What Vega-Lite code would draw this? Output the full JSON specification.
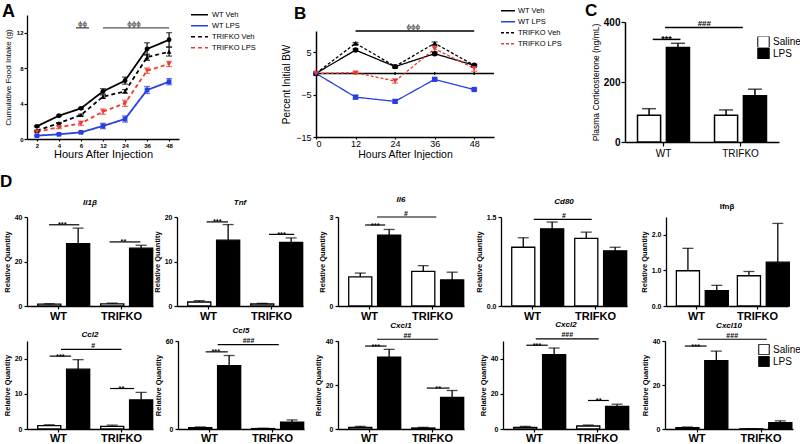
{
"$schema": "https://vega.github.io/schema/vega-lite/v6.json",
"padding": {"left": 0, "top": 2, "right": 0, "bottom": 0},
"config": {
 "font": "Liberation Sans",
 "view": {"stroke": null},
 "axis": {"grid": false, "domainColor": "black", "tickColor": "black", "labelColor": "black", "titleColor": "black", "domainWidth": 1.3, "tickWidth": 1.2, "titleFontWeight": "normal", "labelFont": "Liberation Sans", "titleFont": "Liberation Sans"},
 "legend": {"labelFont": "Liberation Sans", "labelColor": "black"},
 "title": {"font": "Liberation Sans", "color": "black"}
},
"datasets": {
 "food": [
  {"s":"WT Veh","h":"2","v":1.43,"lo":1.35,"hi":1.51},{"s":"WT Veh","h":"4","v":2.63,"lo":2.55,"hi":2.71},{"s":"WT Veh","h":"6","v":3.46,"lo":3.36,"hi":3.56},{"s":"WT Veh","h":"12","v":5.38,"lo":5.08,"hi":5.68},{"s":"WT Veh","h":"24","v":6.59,"lo":6.19,"hi":6.99},{"s":"WT Veh","h":"36","v":10.16,"lo":9.46,"hi":10.86},{"s":"WT Veh","h":"48","v":11.2,"lo":10.4,"hi":12.0},
  {"s":"WT LPS","h":"2","v":0.38,"lo":0.33,"hi":0.43},{"s":"WT LPS","h":"4","v":0.53,"lo":0.48,"hi":0.58},{"s":"WT LPS","h":"6","v":0.75,"lo":0.67,"hi":0.83},{"s":"WT LPS","h":"12","v":1.47,"lo":1.17,"hi":1.77},{"s":"WT LPS","h":"24","v":2.26,"lo":1.91,"hi":2.61},{"s":"WT LPS","h":"36","v":5.53,"lo":5.13,"hi":5.93},{"s":"WT LPS","h":"48","v":6.47,"lo":6.12,"hi":6.82},
  {"s":"TRIFKO Veh","h":"2","v":0.94,"lo":0.89,"hi":0.99},{"s":"TRIFKO Veh","h":"4","v":1.8,"lo":1.75,"hi":1.85},{"s":"TRIFKO Veh","h":"6","v":2.71,"lo":2.61,"hi":2.81},{"s":"TRIFKO Veh","h":"12","v":4.78,"lo":4.58,"hi":4.98},{"s":"TRIFKO Veh","h":"24","v":5.38,"lo":5.18,"hi":5.58},{"s":"TRIFKO Veh","h":"36","v":9.22,"lo":8.87,"hi":9.57},{"s":"TRIFKO Veh","h":"48","v":9.86,"lo":9.36,"hi":10.36},
  {"s":"TRIFKO LPS","h":"2","v":0.83,"lo":0.73,"hi":0.93},{"s":"TRIFKO LPS","h":"4","v":1.32,"lo":1.17,"hi":1.47},{"s":"TRIFKO LPS","h":"6","v":1.77,"lo":1.52,"hi":2.02},{"s":"TRIFKO LPS","h":"12","v":3.09,"lo":2.79,"hi":3.39},{"s":"TRIFKO LPS","h":"24","v":4.03,"lo":3.68,"hi":4.38},{"s":"TRIFKO LPS","h":"36","v":7.72,"lo":7.42,"hi":8.02},{"s":"TRIFKO LPS","h":"48","v":8.47,"lo":8.17,"hi":8.77}
 ],
 "bw": [
  {"s":"WT Veh","h":0,"v":0,"lo":0,"hi":0},{"s":"WT Veh","h":12,"v":5.5,"lo":5.2,"hi":5.8},{"s":"WT Veh","h":24,"v":1.6,"lo":1.3,"hi":1.9},{"s":"WT Veh","h":36,"v":4.65,"lo":4.3,"hi":5.0},{"s":"WT Veh","h":48,"v":1.9,"lo":1.6,"hi":2.2},
  {"s":"WT LPS","h":0,"v":0,"lo":0,"hi":0},{"s":"WT LPS","h":12,"v":-5.6,"lo":-6.0,"hi":-5.2},{"s":"WT LPS","h":24,"v":-6.6,"lo":-6.9,"hi":-6.3},{"s":"WT LPS","h":36,"v":-1.4,"lo":-1.7,"hi":-1.1},{"s":"WT LPS","h":48,"v":-3.8,"lo":-4.0,"hi":-3.6},
  {"s":"TRIFKO Veh","h":0,"v":0,"lo":0,"hi":0},{"s":"TRIFKO Veh","h":12,"v":7.1,"lo":6.9,"hi":7.3},{"s":"TRIFKO Veh","h":24,"v":1.65,"lo":1.45,"hi":1.85},{"s":"TRIFKO Veh","h":36,"v":7.1,"lo":6.8,"hi":7.4},{"s":"TRIFKO Veh","h":48,"v":1.9,"lo":1.7,"hi":2.1},
  {"s":"TRIFKO LPS","h":0,"v":0,"lo":0,"hi":0},{"s":"TRIFKO LPS","h":12,"v":0.15,"lo":-0.1,"hi":0.4},{"s":"TRIFKO LPS","h":24,"v":-1.8,"lo":-2.3,"hi":-1.3},{"s":"TRIFKO LPS","h":36,"v":5.8,"lo":5.1,"hi":6.4},{"s":"TRIFKO LPS","h":48,"v":1.2,"lo":0.5,"hi":1.8}
 ],
 "cort": [
  {"genotype":"WT","treatment":"Saline","v":89,"hi":111},{"genotype":"WT","treatment":"LPS","v":315,"hi":329},
  {"genotype":"TRIFKO","treatment":"Saline","v":89,"hi":107},{"genotype":"TRIFKO","treatment":"LPS","v":154,"hi":176}
 ],
 "csig": [
  {"x1":0.86,"x2":1.22,"xm":1.04,"y":342,"label":"***"},
  {"x1":1.02,"x2":2.03,"xm":1.53,"y":382,"label":"###"}
 ],
 "genes": [
  {"gene":"Il1b","genotype":"WT","treatment":"Saline","v":0.8,"hi":1.0},{"gene":"Il1b","genotype":"WT","treatment":"LPS","v":28.0,"hi":35.0},{"gene":"Il1b","genotype":"TRIFKO","treatment":"Saline","v":1.0,"hi":1.3},{"gene":"Il1b","genotype":"TRIFKO","treatment":"LPS","v":26.0,"hi":27.3},
  {"gene":"Tnf","genotype":"WT","treatment":"Saline","v":0.9,"hi":1.2},{"gene":"Tnf","genotype":"WT","treatment":"LPS","v":14.8,"hi":18.3},{"gene":"Tnf","genotype":"TRIFKO","treatment":"Saline","v":0.45,"hi":0.6},{"gene":"Tnf","genotype":"TRIFKO","treatment":"LPS","v":14.3,"hi":15.3},
  {"gene":"Il6","genotype":"WT","treatment":"Saline","v":0.985,"hi":1.11},{"gene":"Il6","genotype":"WT","treatment":"LPS","v":2.39,"hi":2.58},{"gene":"Il6","genotype":"TRIFKO","treatment":"Saline","v":1.17,"hi":1.36},{"gene":"Il6","genotype":"TRIFKO","treatment":"LPS","v":0.88,"hi":1.14},
  {"gene":"Cd80","genotype":"WT","treatment":"Saline","v":0.99,"hi":1.15},{"gene":"Cd80","genotype":"WT","treatment":"LPS","v":1.30,"hi":1.415},{"gene":"Cd80","genotype":"TRIFKO","treatment":"Saline","v":1.14,"hi":1.245},{"gene":"Cd80","genotype":"TRIFKO","treatment":"LPS","v":0.93,"hi":0.99},
  {"gene":"Ifnb","genotype":"WT","treatment":"Saline","v":0.99,"hi":1.62},{"gene":"Ifnb","genotype":"WT","treatment":"LPS","v":0.43,"hi":0.58},{"gene":"Ifnb","genotype":"TRIFKO","treatment":"Saline","v":0.85,"hi":0.97},{"gene":"Ifnb","genotype":"TRIFKO","treatment":"LPS","v":1.23,"hi":2.32},
  {"gene":"Ccl2","genotype":"WT","treatment":"Saline","v":0.94,"hi":1.2},{"gene":"Ccl2","genotype":"WT","treatment":"LPS","v":17.0,"hi":19.7},{"gene":"Ccl2","genotype":"TRIFKO","treatment":"Saline","v":0.75,"hi":1.1},{"gene":"Ccl2","genotype":"TRIFKO","treatment":"LPS","v":8.3,"hi":10.4},
  {"gene":"Ccl5","genotype":"WT","treatment":"Saline","v":0.9,"hi":1.4},{"gene":"Ccl5","genotype":"WT","treatment":"LPS","v":43.2,"hi":50.1},{"gene":"Ccl5","genotype":"TRIFKO","treatment":"Saline","v":0.3,"hi":0.5},{"gene":"Ccl5","genotype":"TRIFKO","treatment":"LPS","v":4.6,"hi":6.2},
  {"gene":"Cxcl1","genotype":"WT","treatment":"Saline","v":0.76,"hi":1.2},{"gene":"Cxcl1","genotype":"WT","treatment":"LPS","v":32.7,"hi":36.2},{"gene":"Cxcl1","genotype":"TRIFKO","treatment":"Saline","v":0.45,"hi":0.75},{"gene":"Cxcl1","genotype":"TRIFKO","treatment":"LPS","v":14.4,"hi":17.5},
  {"gene":"Cxcl2","genotype":"WT","treatment":"Saline","v":0.94,"hi":1.5},{"gene":"Cxcl2","genotype":"WT","treatment":"LPS","v":42.3,"hi":46.0},{"gene":"Cxcl2","genotype":"TRIFKO","treatment":"Saline","v":1.7,"hi":2.25},{"gene":"Cxcl2","genotype":"TRIFKO","treatment":"LPS","v":12.8,"hi":14.1},
  {"gene":"Cxcl10","genotype":"WT","treatment":"Saline","v":0.6,"hi":0.9},{"gene":"Cxcl10","genotype":"WT","treatment":"LPS","v":31.1,"hi":35.4},{"gene":"Cxcl10","genotype":"TRIFKO","treatment":"Saline","v":0.1,"hi":0.15},{"gene":"Cxcl10","genotype":"TRIFKO","treatment":"LPS","v":2.9,"hi":3.7}
 ],
 "gsig": [
  {"gene":"Il1b","x1":0.85,"x2":1.33,"xm":1.06,"y":36.5,"label":"***"},{"gene":"Il1b","x1":1.81,"x2":2.30,"xm":2.03,"y":28.8,"label":"**"},
  {"gene":"Tnf","x1":0.97,"x2":1.31,"xm":1.14,"y":18.9,"label":"***"},{"gene":"Tnf","x1":1.96,"x2":2.36,"xm":2.16,"y":16.1,"label":"***"},
  {"gene":"Il6","x1":0.93,"x2":1.25,"xm":1.09,"y":2.73,"label":"***"},{"gene":"Il6","x1":1.12,"x2":2.06,"xm":1.58,"y":3.0,"label":"#"},
  {"gene":"Cd80","x1":1.02,"x2":1.94,"xm":1.5,"y":1.46,"label":"#"},
  {"gene":"Ccl2","x1":0.86,"x2":1.20,"xm":1.03,"y":20.7,"label":"***"},{"gene":"Ccl2","x1":1.04,"x2":2.0,"xm":1.55,"y":22.6,"label":"#"},{"gene":"Ccl2","x1":1.82,"x2":2.2,"xm":2.0,"y":11.5,"label":"**"},
  {"gene":"Ccl5","x1":0.94,"x2":1.29,"xm":1.1,"y":52.6,"label":"***"},{"gene":"Ccl5","x1":1.13,"x2":2.1,"xm":1.62,"y":57.5,"label":"###"},
  {"gene":"Cxcl1","x1":0.93,"x2":1.27,"xm":1.1,"y":37.7,"label":"***"},{"gene":"Cxcl1","x1":1.12,"x2":2.09,"xm":1.6,"y":40.8,"label":"##"},{"gene":"Cxcl1","x1":1.91,"x2":2.27,"xm":2.09,"y":18.6,"label":"**"},
  {"gene":"Cxcl2","x1":0.87,"x2":1.21,"xm":1.04,"y":47.6,"label":"***"},{"gene":"Cxcl2","x1":1.02,"x2":2.02,"xm":1.52,"y":51.2,"label":"###"},{"gene":"Cxcl2","x1":1.85,"x2":2.18,"xm":2.02,"y":16.2,"label":"**"},
  {"gene":"Cxcl10","x1":0.81,"x2":1.15,"xm":0.98,"y":37.7,"label":"***"},{"gene":"Cxcl10","x1":1.01,"x2":2.09,"xm":1.55,"y":40.8,"label":"###"}
 ]
},
"spacing": 12,
"resolve": {"scale": {"color": "independent", "strokeDash": "independent", "fill": "independent"}, "legend": {"color": "independent", "strokeDash": "independent", "fill": "independent"}},
"vconcat": [
 {"hconcat": [
  {"width": 289, "height": 124,
   "title": {"text": "A", "anchor": "start", "frame": "group", "dx": -25, "dy": 10.5, "offset": 0, "fontSize": 18, "fontWeight": "bold"},
   "layer": [
    {"data": {"name": "food"},
     "encoding": {
      "x": {"field": "h", "type": "ordinal", "scale": {"type": "point", "domain": ["2","4","6","12","24","36","48"], "range": [0, 152], "padding": 0.45}, "axis": {"title": "Hours After Injection", "labelAngle": 0, "labelFontSize": 6, "labelFontWeight": "bold", "titleFontSize": 11, "tickSize": 2, "labelPadding": 1, "titlePadding": 0}}
     },
     "layer": [
      {"mark": {"type": "line", "strokeWidth": 1.8},
       "encoding": {"y": {"field": "v", "type": "quantitative", "scale": {"domain": [0, 14], "nice": false}, "axis": {"title": "Cumulative Food Intake (g)", "values": [0,2,4,6,8,10,12,14], "labelFontSize": 6, "labelFontWeight": "bold", "titleFontSize": 8, "tickSize": 3, "labelPadding": 1, "titlePadding": 4}},
        "color": {"field": "s", "type": "nominal", "scale": {"domain": ["WT Veh","WT LPS","TRIFKO Veh","TRIFKO LPS"], "range": ["black","#2a3fe0","black","#ee3b30"]},
         "legend": {"orient": "none", "legendX": 163, "legendY": -4.5, "title": null, "padding": 0, "labelFontSize": 7.5, "labelOffset": 3, "clipHeight": 8.5, "rowPadding": 2, "symbolType": "stroke", "symbolSize": 289, "symbolStrokeWidth": 1.6}},
        "strokeDash": {"field": "s", "type": "nominal", "scale": {"domain": ["WT Veh","WT LPS","TRIFKO Veh","TRIFKO LPS"], "range": [[1,0],[1,0],[4,3],[4,3]]},
         "legend": {"orient": "none", "legendX": 163, "legendY": -4.5, "title": null, "padding": 0, "labelFontSize": 7.5, "labelOffset": 3, "clipHeight": 8.5, "rowPadding": 2, "symbolType": "stroke", "symbolSize": 289, "symbolStrokeWidth": 1.6}}}},
      {"mark": {"type": "rule", "strokeWidth": 1.2}, "encoding": {"y": {"field": "lo", "type": "quantitative"}, "y2": {"field": "hi"}, "color": {"field": "s", "type": "nominal", "legend": null}}},
      {"mark": {"type": "tick", "thickness": 1.2, "size": 6}, "encoding": {"y": {"field": "hi", "type": "quantitative"}, "color": {"field": "s", "type": "nominal", "legend": null}}},
      {"mark": {"type": "tick", "thickness": 1.2, "size": 6}, "encoding": {"y": {"field": "lo", "type": "quantitative"}, "color": {"field": "s", "type": "nominal", "legend": null}}},
      {"transform": [{"filter": "datum.s === 'WT Veh'"}], "mark": {"type": "point", "shape": "circle", "filled": true, "size": 24, "opacity": 1}, "encoding": {"y": {"field": "v", "type": "quantitative"}, "color": {"field": "s", "type": "nominal", "legend": null}}},
      {"transform": [{"filter": "datum.s === 'WT LPS'"}], "mark": {"type": "point", "shape": "square", "filled": true, "size": 22, "opacity": 1}, "encoding": {"y": {"field": "v", "type": "quantitative"}, "color": {"field": "s", "type": "nominal", "legend": null}}},
      {"transform": [{"filter": "datum.s === 'TRIFKO Veh'"}], "mark": {"type": "point", "shape": "triangle-up", "filled": true, "size": 24, "opacity": 1}, "encoding": {"y": {"field": "v", "type": "quantitative"}, "color": {"field": "s", "type": "nominal", "legend": null}}},
      {"transform": [{"filter": "datum.s === 'TRIFKO LPS'"}], "mark": {"type": "point", "shape": "triangle-down", "filled": true, "size": 24, "opacity": 1}, "encoding": {"y": {"field": "v", "type": "quantitative"}, "color": {"field": "s", "type": "nominal", "legend": null}}}
     ]},
    {"data": {"values": [{"from": "12", "to": "48", "y": 12.55}]},
     "mark": {"type": "rule", "strokeWidth": 1.4, "color": "#555"},
     "encoding": {"x": {"field": "from", "type": "ordinal"}, "x2": {"field": "to"}, "y": {"field": "y", "type": "quantitative"}}},
    {"data": {"values": [{"from": "6", "to": "6", "y": 12.55}]},
     "mark": {"type": "rule", "strokeWidth": 1.4, "color": "#555", "xOffset": -5, "x2Offset": 8},
     "encoding": {"x": {"field": "from", "type": "ordinal"}, "x2": {"field": "to"}, "y": {"field": "y", "type": "quantitative"}}},
    {"data": {"values": [{"h": "24", "y": 12.55, "label": "ϕϕϕ"}]},
     "mark": {"type": "text", "baseline": "bottom", "dx": 9, "dy": 0, "fontSize": 8, "color": "#333"},
     "encoding": {"x": {"field": "h", "type": "ordinal"}, "y": {"field": "y", "type": "quantitative"}, "text": {"field": "label"}}},
    {"data": {"values": [{"h": "6", "y": 12.55, "label": "ϕϕ"}]},
     "mark": {"type": "text", "baseline": "bottom", "dx": 1.5, "dy": 0, "fontSize": 8, "color": "#333"},
     "encoding": {"x": {"field": "h", "type": "ordinal"}, "y": {"field": "y", "type": "quantitative"}, "text": {"field": "label"}}}
   ]},
  {"width": 309, "height": 122,
   "title": {"text": "B", "anchor": "start", "frame": "group", "dx": -22, "dy": 16, "offset": 0, "fontSize": 17, "fontWeight": "bold"},
   "layer": [
    {"data": {"values": [{"a": 0, "b": 54, "y": 0}]},
     "mark": {"type": "rule", "strokeWidth": 1.5, "color": "black"},
     "encoding": {"x": {"field": "a", "type": "quantitative", "scale": {"domain": [0, 54], "range": [0, 178], "nice": false}, "axis": {"values": [0,12,24,36,48], "title": "Hours After Injection", "labelFontSize": 9, "titleFontSize": 10.5, "tickSize": 2, "labelPadding": 0, "titlePadding": 1, "domainWidth": 1.5}},
      "x2": {"field": "b"}, "y": {"field": "y", "type": "quantitative", "scale": {"domain": [-15, 10], "range": [122, 16], "nice": false}, "axis": {"values": [-15,-10,-5,0,5,10], "title": "Percent Initial BW", "labelFontSize": 9, "titleFontSize": 10, "tickSize": 3, "labelPadding": 2, "titlePadding": 4, "domainWidth": 1.5}}}},
    {"data": {"values": [{"h": 12, "a": -0.35, "b": 0.35}, {"h": 24, "a": -0.35, "b": 0.35}, {"h": 36, "a": -0.35, "b": 0.35}, {"h": 48, "a": -0.35, "b": 0.35}]},
     "mark": {"type": "rule", "strokeWidth": 1.3, "color": "black"},
     "encoding": {"x": {"field": "h", "type": "quantitative"}, "y": {"field": "a", "type": "quantitative"}, "y2": {"field": "b"}}},
    {"data": {"name": "bw"},
     "encoding": {"x": {"field": "h", "type": "quantitative"}},
     "layer": [
      {"mark": {"type": "line", "strokeWidth": 1.3},
       "encoding": {"y": {"field": "v", "type": "quantitative"},
        "color": {"field": "s", "type": "nominal", "scale": {"domain": ["WT Veh","WT LPS","TRIFKO Veh","TRIFKO LPS"], "range": ["black","#2a3fe0","black","#ee3b30"]},
         "legend": {"orient": "none", "legendX": 184, "legendY": -8.5, "title": null, "padding": 0, "labelFontSize": 7.5, "labelOffset": 2, "clipHeight": 8.5, "rowPadding": 2, "symbolType": "stroke", "symbolSize": 196, "symbolStrokeWidth": 1.4}},
        "strokeDash": {"field": "s", "type": "nominal", "scale": {"domain": ["WT Veh","WT LPS","TRIFKO Veh","TRIFKO LPS"], "range": [[1,0],[1,0],[3,2],[3,2]]},
         "legend": {"orient": "none", "legendX": 184, "legendY": -8.5, "title": null, "padding": 0, "labelFontSize": 7.5, "labelOffset": 2, "clipHeight": 8.5, "rowPadding": 2, "symbolType": "stroke", "symbolSize": 196, "symbolStrokeWidth": 1.4}}}},
      {"mark": {"type": "rule", "strokeWidth": 1.2}, "encoding": {"y": {"field": "lo", "type": "quantitative"}, "y2": {"field": "hi"}, "color": {"field": "s", "type": "nominal", "legend": null}}},
      {"mark": {"type": "tick", "thickness": 1.2, "size": 6, "orient": "horizontal"}, "encoding": {"y": {"field": "hi", "type": "quantitative"}, "color": {"field": "s", "type": "nominal", "legend": null}}},
      {"mark": {"type": "tick", "thickness": 1.2, "size": 6, "orient": "horizontal"}, "encoding": {"y": {"field": "lo", "type": "quantitative"}, "color": {"field": "s", "type": "nominal", "legend": null}}},
      {"transform": [{"filter": "datum.s === 'WT Veh'"}], "mark": {"type": "point", "shape": "circle", "filled": true, "size": 30, "opacity": 1}, "encoding": {"y": {"field": "v", "type": "quantitative"}, "color": {"field": "s", "type": "nominal", "legend": null}}},
      {"transform": [{"filter": "datum.s === 'WT LPS'"}], "mark": {"type": "point", "shape": "square", "filled": true, "size": 28, "opacity": 1}, "encoding": {"y": {"field": "v", "type": "quantitative"}, "color": {"field": "s", "type": "nominal", "legend": null}}},
      {"transform": [{"filter": "datum.s === 'TRIFKO Veh'"}], "mark": {"type": "point", "shape": "triangle-up", "filled": true, "size": 30, "opacity": 1}, "encoding": {"y": {"field": "v", "type": "quantitative"}, "color": {"field": "s", "type": "nominal", "legend": null}}},
      {"transform": [{"filter": "datum.s === 'TRIFKO LPS'"}], "mark": {"type": "point", "shape": "triangle-down", "filled": true, "size": 30, "opacity": 1}, "encoding": {"y": {"field": "v", "type": "quantitative"}, "color": {"field": "s", "type": "nominal", "legend": null}}}
     ]},
    {"data": {"values": [{"a": 12, "b": 48, "y": 10}]},
     "mark": {"type": "rule", "strokeWidth": 1.3, "color": "black"},
     "encoding": {"x": {"field": "a", "type": "quantitative"}, "x2": {"field": "b"}, "y": {"field": "y", "type": "quantitative"}}},
    {"data": {"values": [{"h": 29.5, "y": 10, "label": "ϕϕϕ"}]},
     "mark": {"type": "text", "baseline": "bottom", "dy": 0, "fontSize": 8, "color": "#333"},
     "encoding": {"x": {"field": "h", "type": "quantitative"}, "y": {"field": "y", "type": "quantitative"}, "text": {"field": "label"}}}
   ]},
  {"width": 154, "height": 127,
   "title": {"text": "C", "anchor": "start", "frame": "group", "dx": -40, "dy": 5, "offset": 0, "fontSize": 17, "fontWeight": "bold"},
   "layer": [
    {"data": {"name": "cort"},
     "encoding": {
      "x": {"field": "genotype", "type": "nominal", "sort": ["WT","TRIFKO"], "scale": {"range": [0, 154], "paddingInner": 0.325, "paddingOuter": 0.1625}, "axis": {"title": null, "labelAngle": 0, "labelFontSize": 10, "tickSize": 4, "labelPadding": 2, "domainWidth": 1.5}},
      "xOffset": {"field": "treatment", "type": "nominal", "sort": ["Saline","LPS"], "scale": {"paddingInner": 0.2, "paddingOuter": 0}}
     },
     "layer": [
      {"mark": {"type": "bar", "stroke": "black", "strokeWidth": 1.5},
       "encoding": {"y": {"field": "v", "type": "quantitative", "scale": {"domain": [0, 400], "range": [127, 7], "nice": false}, "axis": {"values": [0,100,200,300,400], "title": "Plasma Corticosterone (ng/mL)", "titleFontSize": 8.5, "labelFontSize": 10, "labelFontWeight": "bold", "tickSize": 4, "labelPadding": 1, "titlePadding": 3, "domainWidth": 1.5}},
        "fill": {"field": "treatment", "type": "nominal", "scale": {"domain": ["Saline","LPS"], "range": ["white","black"]},
         "legend": {"orient": "none", "legendX": 132, "legendY": 21.5, "title": null, "padding": 0, "symbolType": "square", "symbolSize": 130, "symbolStrokeColor": "black", "symbolStrokeWidth": 1, "labelFontSize": 10, "labelOffset": 3, "clipHeight": 11, "rowPadding": 0.5}}}},
      {"mark": {"type": "rule", "color": "black", "strokeWidth": 1.5}, "encoding": {"y": {"field": "v", "type": "quantitative"}, "y2": {"field": "hi"}}},
      {"mark": {"type": "tick", "color": "black", "thickness": 1.5, "size": 14}, "encoding": {"y": {"field": "hi", "type": "quantitative"}}}
     ]},
    {"data": {"name": "csig"},
     "encoding": {"y": {"field": "y", "type": "quantitative"}},
     "layer": [
      {"mark": {"type": "rule", "color": "black", "strokeWidth": 1.5}, "encoding": {"x": {"field": "x1", "type": "quantitative", "scale": {"domain": [0.5, 2.5], "range": [0, 154], "nice": false, "zero": false}, "axis": null}, "x2": {"field": "x2"}}},
      {"transform": [{"filter": "indexof(datum.label, '*') >= 0"}], "mark": {"type": "text", "baseline": "alphabetic", "dy": 3, "fontSize": 9, "fontWeight": "bold"}, "encoding": {"x": {"field": "xm", "type": "quantitative"}, "text": {"field": "label"}}},
      {"transform": [{"filter": "indexof(datum.label, '#') >= 0"}], "mark": {"type": "text", "baseline": "alphabetic", "dy": -1.5, "fontSize": 8, "fontWeight": "bold"}, "encoding": {"x": {"field": "xm", "type": "quantitative"}, "text": {"field": "label"}}}
     ]}
   ],
   "resolve": {"scale": {"x": "independent"}}}
 ], "spacing": 0, "bounds": "flush",
 "resolve": {"scale": {"color": "independent", "strokeDash": "independent", "fill": "independent"}, "legend": {"color": "independent", "strokeDash": "independent", "fill": "independent"}}},
 {"title": {"text": "D", "anchor": "start", "frame": "group", "dx": -27, "dy": -5, "offset": 0, "fontSize": 17, "fontWeight": "bold"},
  "spacing": 0,
  "resolve": {"scale": {"fill": "independent"}, "legend": {"fill": "independent"}},
  "vconcat": [
   {"hconcat": [
    {"width": 150, "height": 89, "title": {"text": "Il1β", "fontSize": 8, "fontWeight": "bold", "fontStyle": "italic", "anchor": "middle", "frame": "group", "dx": -12, "offset": 6},
     "layer": [
      {"data": {"name": "genes"}, "transform": [{"filter": "datum.gene === 'Il1b'"}],
       "encoding": {"x": {"field": "genotype", "type": "nominal", "sort": ["WT","TRIFKO"], "scale": {"range": [0, 126], "paddingInner": 0.34, "paddingOuter": 0.17}, "axis": {"title": null, "labelAngle": 0, "labelFontSize": 11, "labelFontWeight": "bold", "tickSize": 3, "labelPadding": 1, "domainWidth": 1.5}},
        "xOffset": {"field": "treatment", "type": "nominal", "sort": ["Saline","LPS"], "scale": {"paddingInner": 0.29, "paddingOuter": 0}}},
       "layer": [
        {"mark": {"type": "bar", "stroke": "black", "strokeWidth": 1.3}, "encoding": {"y": {"field": "v", "type": "quantitative", "scale": {"domain": [0, 40], "nice": false}, "axis": {"title": "Relative Quantity", "values": [0,10,20,30,40], "titleFontSize": 7.5, "titleFontWeight": "bold", "labelFontSize": 7, "labelFontWeight": "bold", "tickSize": 3, "labelPadding": 2, "titlePadding": 3, "domainWidth": 1.3}}, "fill": {"field": "treatment", "type": "nominal", "scale": {"domain": ["Saline","LPS"], "range": ["white","black"]}, "legend": null}}},
        {"mark": {"type": "rule", "color": "black", "strokeWidth": 1.3}, "encoding": {"y": {"field": "v", "type": "quantitative"}, "y2": {"field": "hi"}}},
        {"mark": {"type": "tick", "color": "black", "thickness": 1.3, "size": 11}, "encoding": {"y": {"field": "hi", "type": "quantitative"}}}
       ]},
      {"data": {"name": "gsig"}, "transform": [{"filter": "datum.gene === 'Il1b'"}], "encoding": {"y": {"field": "y", "type": "quantitative"}},
       "layer": [
        {"mark": {"type": "rule", "color": "black", "strokeWidth": 1.2}, "encoding": {"x": {"field": "x1", "type": "quantitative", "scale": {"domain": [0.5, 2.5], "range": [0, 126], "nice": false, "zero": false}, "axis": null}, "x2": {"field": "x2"}}},
        {"transform": [{"filter": "indexof(datum.label, '*') >= 0"}], "mark": {"type": "text", "baseline": "alphabetic", "dy": 2.5, "fontSize": 7.5, "fontWeight": "bold"}, "encoding": {"x": {"field": "xm", "type": "quantitative"}, "text": {"field": "label"}}},
        {"transform": [{"filter": "indexof(datum.label, '#') >= 0"}], "mark": {"type": "text", "baseline": "alphabetic", "dy": -1.5, "fontSize": 7, "fontWeight": "bold"}, "encoding": {"x": {"field": "xm", "type": "quantitative"}, "text": {"field": "label"}}}
       ]}
     ], "resolve": {"scale": {"x": "independent"}}},
    {"width": 161, "height": 89, "title": {"text": "Tnf", "fontSize": 8, "fontWeight": "bold", "fontStyle": "italic", "anchor": "middle", "frame": "group", "dx": -17.5, "offset": 6},
     "layer": [
      {"data": {"name": "genes"}, "transform": [{"filter": "datum.gene === 'Tnf'"}],
       "encoding": {"x": {"field": "genotype", "type": "nominal", "sort": ["WT","TRIFKO"], "scale": {"range": [0, 126], "paddingInner": 0.34, "paddingOuter": 0.17}, "axis": {"title": null, "labelAngle": 0, "labelFontSize": 11, "labelFontWeight": "bold", "tickSize": 3, "labelPadding": 1, "domainWidth": 1.5}},
        "xOffset": {"field": "treatment", "type": "nominal", "sort": ["Saline","LPS"], "scale": {"paddingInner": 0.29, "paddingOuter": 0}}},
       "layer": [
        {"mark": {"type": "bar", "stroke": "black", "strokeWidth": 1.3}, "encoding": {"y": {"field": "v", "type": "quantitative", "scale": {"domain": [0, 20], "nice": false}, "axis": {"title": "Relative Quantity", "values": [0,5,10,15,20], "titleFontSize": 7.5, "titleFontWeight": "bold", "labelFontSize": 7, "labelFontWeight": "bold", "tickSize": 3, "labelPadding": 2, "titlePadding": 3, "domainWidth": 1.3}}, "fill": {"field": "treatment", "type": "nominal", "scale": {"domain": ["Saline","LPS"], "range": ["white","black"]}, "legend": null}}},
        {"mark": {"type": "rule", "color": "black", "strokeWidth": 1.3}, "encoding": {"y": {"field": "v", "type": "quantitative"}, "y2": {"field": "hi"}}},
        {"mark": {"type": "tick", "color": "black", "thickness": 1.3, "size": 11}, "encoding": {"y": {"field": "hi", "type": "quantitative"}}}
       ]},
      {"data": {"name": "gsig"}, "transform": [{"filter": "datum.gene === 'Tnf'"}], "encoding": {"y": {"field": "y", "type": "quantitative"}},
       "layer": [
        {"mark": {"type": "rule", "color": "black", "strokeWidth": 1.2}, "encoding": {"x": {"field": "x1", "type": "quantitative", "scale": {"domain": [0.5, 2.5], "range": [0, 126], "nice": false, "zero": false}, "axis": null}, "x2": {"field": "x2"}}},
        {"transform": [{"filter": "indexof(datum.label, '*') >= 0"}], "mark": {"type": "text", "baseline": "alphabetic", "dy": 2.5, "fontSize": 7.5, "fontWeight": "bold"}, "encoding": {"x": {"field": "xm", "type": "quantitative"}, "text": {"field": "label"}}},
        {"transform": [{"filter": "indexof(datum.label, '#') >= 0"}], "mark": {"type": "text", "baseline": "alphabetic", "dy": -1.5, "fontSize": 7, "fontWeight": "bold"}, "encoding": {"x": {"field": "xm", "type": "quantitative"}, "text": {"field": "label"}}}
       ]}
     ], "resolve": {"scale": {"x": "independent"}}},
    {"width": 163, "height": 89, "title": {"text": "Il6", "fontSize": 8, "fontWeight": "bold", "fontStyle": "italic", "anchor": "middle", "frame": "group", "dx": -18.5, "offset": 6},
     "layer": [
      {"data": {"name": "genes"}, "transform": [{"filter": "datum.gene === 'Il6'"}],
       "encoding": {"x": {"field": "genotype", "type": "nominal", "sort": ["WT","TRIFKO"], "scale": {"range": [0, 126], "paddingInner": 0.34, "paddingOuter": 0.17}, "axis": {"title": null, "labelAngle": 0, "labelFontSize": 11, "labelFontWeight": "bold", "tickSize": 3, "labelPadding": 1, "domainWidth": 1.5}},
        "xOffset": {"field": "treatment", "type": "nominal", "sort": ["Saline","LPS"], "scale": {"paddingInner": 0.29, "paddingOuter": 0}}},
       "layer": [
        {"mark": {"type": "bar", "stroke": "black", "strokeWidth": 1.3}, "encoding": {"y": {"field": "v", "type": "quantitative", "scale": {"domain": [0, 3], "nice": false}, "axis": {"title": "Relative Quantity", "values": [0,1,2,3], "titleFontSize": 7.5, "titleFontWeight": "bold", "labelFontSize": 7, "labelFontWeight": "bold", "tickSize": 3, "labelPadding": 2, "titlePadding": 3, "domainWidth": 1.3}}, "fill": {"field": "treatment", "type": "nominal", "scale": {"domain": ["Saline","LPS"], "range": ["white","black"]}, "legend": null}}},
        {"mark": {"type": "rule", "color": "black", "strokeWidth": 1.3}, "encoding": {"y": {"field": "v", "type": "quantitative"}, "y2": {"field": "hi"}}},
        {"mark": {"type": "tick", "color": "black", "thickness": 1.3, "size": 11}, "encoding": {"y": {"field": "hi", "type": "quantitative"}}}
       ]},
      {"data": {"name": "gsig"}, "transform": [{"filter": "datum.gene === 'Il6'"}], "encoding": {"y": {"field": "y", "type": "quantitative"}},
       "layer": [
        {"mark": {"type": "rule", "color": "black", "strokeWidth": 1.2}, "encoding": {"x": {"field": "x1", "type": "quantitative", "scale": {"domain": [0.5, 2.5], "range": [0, 126], "nice": false, "zero": false}, "axis": null}, "x2": {"field": "x2"}}},
        {"transform": [{"filter": "indexof(datum.label, '*') >= 0"}], "mark": {"type": "text", "baseline": "alphabetic", "dy": 2.5, "fontSize": 7.5, "fontWeight": "bold"}, "encoding": {"x": {"field": "xm", "type": "quantitative"}, "text": {"field": "label"}}},
        {"transform": [{"filter": "indexof(datum.label, '#') >= 0"}], "mark": {"type": "text", "baseline": "alphabetic", "dy": -1.5, "fontSize": 7, "fontWeight": "bold"}, "encoding": {"x": {"field": "xm", "type": "quantitative"}, "text": {"field": "label"}}}
       ]}
     ], "resolve": {"scale": {"x": "independent"}}},
    {"width": 165, "height": 89, "title": {"text": "Cd80", "fontSize": 8, "fontWeight": "bold", "fontStyle": "italic", "anchor": "middle", "frame": "group", "dx": -19.5, "offset": 6},
     "layer": [
      {"data": {"name": "genes"}, "transform": [{"filter": "datum.gene === 'Cd80'"}],
       "encoding": {"x": {"field": "genotype", "type": "nominal", "sort": ["WT","TRIFKO"], "scale": {"range": [0, 126], "paddingInner": 0.34, "paddingOuter": 0.17}, "axis": {"title": null, "labelAngle": 0, "labelFontSize": 11, "labelFontWeight": "bold", "tickSize": 3, "labelPadding": 1, "domainWidth": 1.5}},
        "xOffset": {"field": "treatment", "type": "nominal", "sort": ["Saline","LPS"], "scale": {"paddingInner": 0.29, "paddingOuter": 0}}},
       "layer": [
        {"mark": {"type": "bar", "stroke": "black", "strokeWidth": 1.3}, "encoding": {"y": {"field": "v", "type": "quantitative", "scale": {"domain": [0, 1.5], "nice": false}, "axis": {"title": "Relative Quantity", "values": [0,0.5,1,1.5], "format": ".1f", "titleFontSize": 7.5, "titleFontWeight": "bold", "labelFontSize": 7, "labelFontWeight": "bold", "tickSize": 3, "labelPadding": 2, "titlePadding": 3, "domainWidth": 1.3}}, "fill": {"field": "treatment", "type": "nominal", "scale": {"domain": ["Saline","LPS"], "range": ["white","black"]}, "legend": null}}},
        {"mark": {"type": "rule", "color": "black", "strokeWidth": 1.3}, "encoding": {"y": {"field": "v", "type": "quantitative"}, "y2": {"field": "hi"}}},
        {"mark": {"type": "tick", "color": "black", "thickness": 1.3, "size": 11}, "encoding": {"y": {"field": "hi", "type": "quantitative"}}}
       ]},
      {"data": {"name": "gsig"}, "transform": [{"filter": "datum.gene === 'Cd80'"}], "encoding": {"y": {"field": "y", "type": "quantitative"}},
       "layer": [
        {"mark": {"type": "rule", "color": "black", "strokeWidth": 1.2}, "encoding": {"x": {"field": "x1", "type": "quantitative", "scale": {"domain": [0.5, 2.5], "range": [0, 126], "nice": false, "zero": false}, "axis": null}, "x2": {"field": "x2"}}},
        {"transform": [{"filter": "indexof(datum.label, '#') >= 0"}], "mark": {"type": "text", "baseline": "alphabetic", "dy": -1.5, "fontSize": 7, "fontWeight": "bold"}, "encoding": {"x": {"field": "xm", "type": "quantitative"}, "text": {"field": "label"}}}
       ]}
     ], "resolve": {"scale": {"x": "independent"}}},
    {"width": 128, "height": 89, "title": {"text": "Ifnβ", "fontSize": 8, "fontWeight": "bold", "anchor": "middle", "frame": "group", "dx": -3, "offset": 6},
     "layer": [
      {"data": {"name": "genes"}, "transform": [{"filter": "datum.gene === 'Ifnb'"}],
       "encoding": {"x": {"field": "genotype", "type": "nominal", "sort": ["WT","TRIFKO"], "scale": {"range": [0, 122], "paddingInner": 0.34, "paddingOuter": 0.17}, "axis": {"title": null, "labelAngle": 0, "labelFontSize": 11, "labelFontWeight": "bold", "tickSize": 3, "labelPadding": 1, "domainWidth": 1.5}},
        "xOffset": {"field": "treatment", "type": "nominal", "sort": ["Saline","LPS"], "scale": {"paddingInner": 0.29, "paddingOuter": 0}}},
       "layer": [
        {"mark": {"type": "bar", "stroke": "black", "strokeWidth": 1.3}, "encoding": {"y": {"field": "v", "type": "quantitative", "scale": {"domain": [0, 2.5], "nice": false}, "axis": {"title": "Relative Quantity", "values": [0,0.5,1,1.5,2,2.5], "format": ".1f", "titleFontSize": 7.5, "titleFontWeight": "bold", "labelFontSize": 7, "labelFontWeight": "bold", "tickSize": 3, "labelPadding": 2, "titlePadding": 3, "domainWidth": 1.3}}, "fill": {"field": "treatment", "type": "nominal", "scale": {"domain": ["Saline","LPS"], "range": ["white","black"]}, "legend": null}}},
        {"mark": {"type": "rule", "color": "black", "strokeWidth": 1.3}, "encoding": {"y": {"field": "v", "type": "quantitative"}, "y2": {"field": "hi"}}},
        {"mark": {"type": "tick", "color": "black", "thickness": 1.3, "size": 11}, "encoding": {"y": {"field": "hi", "type": "quantitative"}}}
       ]}
     ]}
   ], "spacing": 0, "bounds": "flush", "resolve": {"scale": {"fill": "independent"}, "legend": {"fill": "independent"}}},
   {"hconcat": [
    {"width": 151, "height": 88, "title": {"text": "Ccl2", "fontSize": 8, "fontWeight": "bold", "fontStyle": "italic", "anchor": "middle", "frame": "group", "dx": -12.5, "offset": 2},
     "layer": [
      {"data": {"name": "genes"}, "transform": [{"filter": "datum.gene === 'Ccl2'"}],
       "encoding": {"x": {"field": "genotype", "type": "nominal", "sort": ["WT","TRIFKO"], "scale": {"range": [0, 126], "paddingInner": 0.34, "paddingOuter": 0.17}, "axis": {"title": null, "labelAngle": 0, "labelFontSize": 11, "labelFontWeight": "bold", "tickSize": 3, "labelPadding": 0, "domainWidth": 1.5}},
        "xOffset": {"field": "treatment", "type": "nominal", "sort": ["Saline","LPS"], "scale": {"paddingInner": 0.29, "paddingOuter": 0}}},
       "layer": [
        {"mark": {"type": "bar", "stroke": "black", "strokeWidth": 1.3}, "encoding": {"y": {"field": "v", "type": "quantitative", "scale": {"domain": [0, 25], "nice": false}, "axis": {"title": "Relative Quantity", "values": [0,5,10,15,20,25], "titleFontSize": 7.5, "titleFontWeight": "bold", "labelFontSize": 7, "labelFontWeight": "bold", "tickSize": 3, "labelPadding": 2, "titlePadding": 3, "domainWidth": 1.3}}, "fill": {"field": "treatment", "type": "nominal", "scale": {"domain": ["Saline","LPS"], "range": ["white","black"]}, "legend": null}}},
        {"mark": {"type": "rule", "color": "black", "strokeWidth": 1.3}, "encoding": {"y": {"field": "v", "type": "quantitative"}, "y2": {"field": "hi"}}},
        {"mark": {"type": "tick", "color": "black", "thickness": 1.3, "size": 11}, "encoding": {"y": {"field": "hi", "type": "quantitative"}}}
       ]},
      {"data": {"name": "gsig"}, "transform": [{"filter": "datum.gene === 'Ccl2'"}], "encoding": {"y": {"field": "y", "type": "quantitative"}},
       "layer": [
        {"mark": {"type": "rule", "color": "black", "strokeWidth": 1.2}, "encoding": {"x": {"field": "x1", "type": "quantitative", "scale": {"domain": [0.5, 2.5], "range": [0, 126], "nice": false, "zero": false}, "axis": null}, "x2": {"field": "x2"}}},
        {"transform": [{"filter": "indexof(datum.label, '*') >= 0"}], "mark": {"type": "text", "baseline": "alphabetic", "dy": 2.5, "fontSize": 7.5, "fontWeight": "bold"}, "encoding": {"x": {"field": "xm", "type": "quantitative"}, "text": {"field": "label"}}},
        {"transform": [{"filter": "indexof(datum.label, '#') >= 0"}], "mark": {"type": "text", "baseline": "alphabetic", "dy": -1.5, "fontSize": 7, "fontWeight": "bold"}, "encoding": {"x": {"field": "xm", "type": "quantitative"}, "text": {"field": "label"}}}
       ]}
     ], "resolve": {"scale": {"x": "independent"}}},
    {"width": 160, "height": 88, "title": {"text": "Ccl5", "fontSize": 8, "fontWeight": "bold", "fontStyle": "italic", "anchor": "middle", "frame": "group", "dx": -17, "offset": 2},
     "layer": [
      {"data": {"name": "genes"}, "transform": [{"filter": "datum.gene === 'Ccl5'"}],
       "encoding": {"x": {"field": "genotype", "type": "nominal", "sort": ["WT","TRIFKO"], "scale": {"range": [0, 126], "paddingInner": 0.34, "paddingOuter": 0.17}, "axis": {"title": null, "labelAngle": 0, "labelFontSize": 11, "labelFontWeight": "bold", "tickSize": 3, "labelPadding": 0, "domainWidth": 1.5}},
        "xOffset": {"field": "treatment", "type": "nominal", "sort": ["Saline","LPS"], "scale": {"paddingInner": 0.29, "paddingOuter": 0}}},
       "layer": [
        {"mark": {"type": "bar", "stroke": "black", "strokeWidth": 1.3}, "encoding": {"y": {"field": "v", "type": "quantitative", "scale": {"domain": [0, 60], "nice": false}, "axis": {"title": "Relative Quantity", "values": [0,20,40,60], "titleFontSize": 7.5, "titleFontWeight": "bold", "labelFontSize": 7, "labelFontWeight": "bold", "tickSize": 3, "labelPadding": 2, "titlePadding": 3, "domainWidth": 1.3}}, "fill": {"field": "treatment", "type": "nominal", "scale": {"domain": ["Saline","LPS"], "range": ["white","black"]}, "legend": null}}},
        {"mark": {"type": "rule", "color": "black", "strokeWidth": 1.3}, "encoding": {"y": {"field": "v", "type": "quantitative"}, "y2": {"field": "hi"}}},
        {"mark": {"type": "tick", "color": "black", "thickness": 1.3, "size": 11}, "encoding": {"y": {"field": "hi", "type": "quantitative"}}}
       ]},
      {"data": {"name": "gsig"}, "transform": [{"filter": "datum.gene === 'Ccl5'"}], "encoding": {"y": {"field": "y", "type": "quantitative"}},
       "layer": [
        {"mark": {"type": "rule", "color": "black", "strokeWidth": 1.2}, "encoding": {"x": {"field": "x1", "type": "quantitative", "scale": {"domain": [0.5, 2.5], "range": [0, 126], "nice": false, "zero": false}, "axis": null}, "x2": {"field": "x2"}}},
        {"transform": [{"filter": "indexof(datum.label, '*') >= 0"}], "mark": {"type": "text", "baseline": "alphabetic", "dy": 2.5, "fontSize": 7.5, "fontWeight": "bold"}, "encoding": {"x": {"field": "xm", "type": "quantitative"}, "text": {"field": "label"}}},
        {"transform": [{"filter": "indexof(datum.label, '#') >= 0"}], "mark": {"type": "text", "baseline": "alphabetic", "dy": -1.5, "fontSize": 7, "fontWeight": "bold"}, "encoding": {"x": {"field": "xm", "type": "quantitative"}, "text": {"field": "label"}}}
       ]}
     ], "resolve": {"scale": {"x": "independent"}}},
    {"width": 165, "height": 88, "title": {"text": "Cxcl1", "fontSize": 8, "fontWeight": "bold", "fontStyle": "italic", "anchor": "middle", "frame": "group", "dx": -19.5, "offset": 2},
     "layer": [
      {"data": {"name": "genes"}, "transform": [{"filter": "datum.gene === 'Cxcl1'"}],
       "encoding": {"x": {"field": "genotype", "type": "nominal", "sort": ["WT","TRIFKO"], "scale": {"range": [0, 126], "paddingInner": 0.34, "paddingOuter": 0.17}, "axis": {"title": null, "labelAngle": 0, "labelFontSize": 11, "labelFontWeight": "bold", "tickSize": 3, "labelPadding": 0, "domainWidth": 1.5}},
        "xOffset": {"field": "treatment", "type": "nominal", "sort": ["Saline","LPS"], "scale": {"paddingInner": 0.29, "paddingOuter": 0}}},
       "layer": [
        {"mark": {"type": "bar", "stroke": "black", "strokeWidth": 1.3}, "encoding": {"y": {"field": "v", "type": "quantitative", "scale": {"domain": [0, 40], "nice": false}, "axis": {"title": "Relative Quantity", "values": [0,10,20,30,40], "titleFontSize": 7.5, "titleFontWeight": "bold", "labelFontSize": 7, "labelFontWeight": "bold", "tickSize": 3, "labelPadding": 2, "titlePadding": 3, "domainWidth": 1.3}}, "fill": {"field": "treatment", "type": "nominal", "scale": {"domain": ["Saline","LPS"], "range": ["white","black"]}, "legend": null}}},
        {"mark": {"type": "rule", "color": "black", "strokeWidth": 1.3}, "encoding": {"y": {"field": "v", "type": "quantitative"}, "y2": {"field": "hi"}}},
        {"mark": {"type": "tick", "color": "black", "thickness": 1.3, "size": 11}, "encoding": {"y": {"field": "hi", "type": "quantitative"}}}
       ]},
      {"data": {"name": "gsig"}, "transform": [{"filter": "datum.gene === 'Cxcl1'"}], "encoding": {"y": {"field": "y", "type": "quantitative"}},
       "layer": [
        {"mark": {"type": "rule", "color": "black", "strokeWidth": 1.2}, "encoding": {"x": {"field": "x1", "type": "quantitative", "scale": {"domain": [0.5, 2.5], "range": [0, 126], "nice": false, "zero": false}, "axis": null}, "x2": {"field": "x2"}}},
        {"transform": [{"filter": "indexof(datum.label, '*') >= 0"}], "mark": {"type": "text", "baseline": "alphabetic", "dy": 2.5, "fontSize": 7.5, "fontWeight": "bold"}, "encoding": {"x": {"field": "xm", "type": "quantitative"}, "text": {"field": "label"}}},
        {"transform": [{"filter": "indexof(datum.label, '#') >= 0"}], "mark": {"type": "text", "baseline": "alphabetic", "dy": -1.5, "fontSize": 7, "fontWeight": "bold"}, "encoding": {"x": {"field": "xm", "type": "quantitative"}, "text": {"field": "label"}}}
       ]}
     ], "resolve": {"scale": {"x": "independent"}}},
    {"width": 162, "height": 88, "title": {"text": "Cxcl2", "fontSize": 8, "fontWeight": "bold", "fontStyle": "italic", "anchor": "middle", "frame": "group", "dx": -18, "offset": 2},
     "layer": [
      {"data": {"name": "genes"}, "transform": [{"filter": "datum.gene === 'Cxcl2'"}],
       "encoding": {"x": {"field": "genotype", "type": "nominal", "sort": ["WT","TRIFKO"], "scale": {"range": [0, 126], "paddingInner": 0.34, "paddingOuter": 0.17}, "axis": {"title": null, "labelAngle": 0, "labelFontSize": 11, "labelFontWeight": "bold", "tickSize": 3, "labelPadding": 0, "domainWidth": 1.5}},
        "xOffset": {"field": "treatment", "type": "nominal", "sort": ["Saline","LPS"], "scale": {"paddingInner": 0.29, "paddingOuter": 0}}},
       "layer": [
        {"mark": {"type": "bar", "stroke": "black", "strokeWidth": 1.3}, "encoding": {"y": {"field": "v", "type": "quantitative", "scale": {"domain": [0, 50], "nice": false}, "axis": {"title": "Relative Quantity", "values": [0,10,20,30,40,50], "titleFontSize": 7.5, "titleFontWeight": "bold", "labelFontSize": 7, "labelFontWeight": "bold", "tickSize": 3, "labelPadding": 2, "titlePadding": 3, "domainWidth": 1.3}}, "fill": {"field": "treatment", "type": "nominal", "scale": {"domain": ["Saline","LPS"], "range": ["white","black"]}, "legend": null}}},
        {"mark": {"type": "rule", "color": "black", "strokeWidth": 1.3}, "encoding": {"y": {"field": "v", "type": "quantitative"}, "y2": {"field": "hi"}}},
        {"mark": {"type": "tick", "color": "black", "thickness": 1.3, "size": 11}, "encoding": {"y": {"field": "hi", "type": "quantitative"}}}
       ]},
      {"data": {"name": "gsig"}, "transform": [{"filter": "datum.gene === 'Cxcl2'"}], "encoding": {"y": {"field": "y", "type": "quantitative"}},
       "layer": [
        {"mark": {"type": "rule", "color": "black", "strokeWidth": 1.2}, "encoding": {"x": {"field": "x1", "type": "quantitative", "scale": {"domain": [0.5, 2.5], "range": [0, 126], "nice": false, "zero": false}, "axis": null}, "x2": {"field": "x2"}}},
        {"transform": [{"filter": "indexof(datum.label, '*') >= 0"}], "mark": {"type": "text", "baseline": "alphabetic", "dy": 2.5, "fontSize": 7.5, "fontWeight": "bold"}, "encoding": {"x": {"field": "xm", "type": "quantitative"}, "text": {"field": "label"}}},
        {"transform": [{"filter": "indexof(datum.label, '#') >= 0"}], "mark": {"type": "text", "baseline": "alphabetic", "dy": -1.5, "fontSize": 7, "fontWeight": "bold"}, "encoding": {"x": {"field": "xm", "type": "quantitative"}, "text": {"field": "label"}}}
       ]}
     ], "resolve": {"scale": {"x": "independent"}}},
    {"width": 130, "height": 88, "title": {"text": "Cxcl10", "fontSize": 8, "fontWeight": "bold", "fontStyle": "italic", "anchor": "middle", "frame": "group", "dx": -1, "offset": 2},
     "layer": [
      {"data": {"name": "genes"}, "transform": [{"filter": "datum.gene === 'Cxcl10'"}],
       "encoding": {"x": {"field": "genotype", "type": "nominal", "sort": ["WT","TRIFKO"], "scale": {"range": [0, 128], "paddingInner": 0.34, "paddingOuter": 0.17}, "axis": {"title": null, "labelAngle": 0, "labelFontSize": 11, "labelFontWeight": "bold", "tickSize": 3, "labelPadding": 0, "domainWidth": 1.5}},
        "xOffset": {"field": "treatment", "type": "nominal", "sort": ["Saline","LPS"], "scale": {"paddingInner": 0.29, "paddingOuter": 0}}},
       "layer": [
        {"mark": {"type": "bar", "stroke": "black", "strokeWidth": 1.3}, "encoding": {"y": {"field": "v", "type": "quantitative", "scale": {"domain": [0, 40], "nice": false}, "axis": {"title": "Relative Quantity", "values": [0,10,20,30,40], "titleFontSize": 7.5, "titleFontWeight": "bold", "labelFontSize": 7, "labelFontWeight": "bold", "tickSize": 3, "labelPadding": 2, "titlePadding": 3, "domainWidth": 1.3}},
         "fill": {"field": "treatment", "type": "nominal", "scale": {"domain": ["Saline","LPS"], "range": ["white","black"]},
          "legend": {"orient": "none", "legendX": 93, "legendY": 3, "title": null, "padding": 0, "symbolType": "square", "symbolSize": 110, "symbolStrokeColor": "black", "symbolStrokeWidth": 1, "labelFontSize": 10, "labelOffset": 3, "clipHeight": 11, "rowPadding": 1}}}},
        {"mark": {"type": "rule", "color": "black", "strokeWidth": 1.3}, "encoding": {"y": {"field": "v", "type": "quantitative"}, "y2": {"field": "hi"}}},
        {"mark": {"type": "tick", "color": "black", "thickness": 1.3, "size": 11}, "encoding": {"y": {"field": "hi", "type": "quantitative"}}}
       ]},
      {"data": {"name": "gsig"}, "transform": [{"filter": "datum.gene === 'Cxcl10'"}], "encoding": {"y": {"field": "y", "type": "quantitative"}},
       "layer": [
        {"mark": {"type": "rule", "color": "black", "strokeWidth": 1.2}, "encoding": {"x": {"field": "x1", "type": "quantitative", "scale": {"domain": [0.5, 2.5], "range": [0, 128], "nice": false, "zero": false}, "axis": null}, "x2": {"field": "x2"}}},
        {"transform": [{"filter": "indexof(datum.label, '*') >= 0"}], "mark": {"type": "text", "baseline": "alphabetic", "dy": 2.5, "fontSize": 7.5, "fontWeight": "bold"}, "encoding": {"x": {"field": "xm", "type": "quantitative"}, "text": {"field": "label"}}},
        {"transform": [{"filter": "indexof(datum.label, '#') >= 0"}], "mark": {"type": "text", "baseline": "alphabetic", "dy": -1.5, "fontSize": 7, "fontWeight": "bold"}, "encoding": {"x": {"field": "xm", "type": "quantitative"}, "text": {"field": "label"}}}
       ]}
     ], "resolve": {"scale": {"x": "independent"}}}
   ], "spacing": 0, "bounds": "flush", "resolve": {"scale": {"fill": "independent"}, "legend": {"fill": "independent"}}}
  ]}
]
}
